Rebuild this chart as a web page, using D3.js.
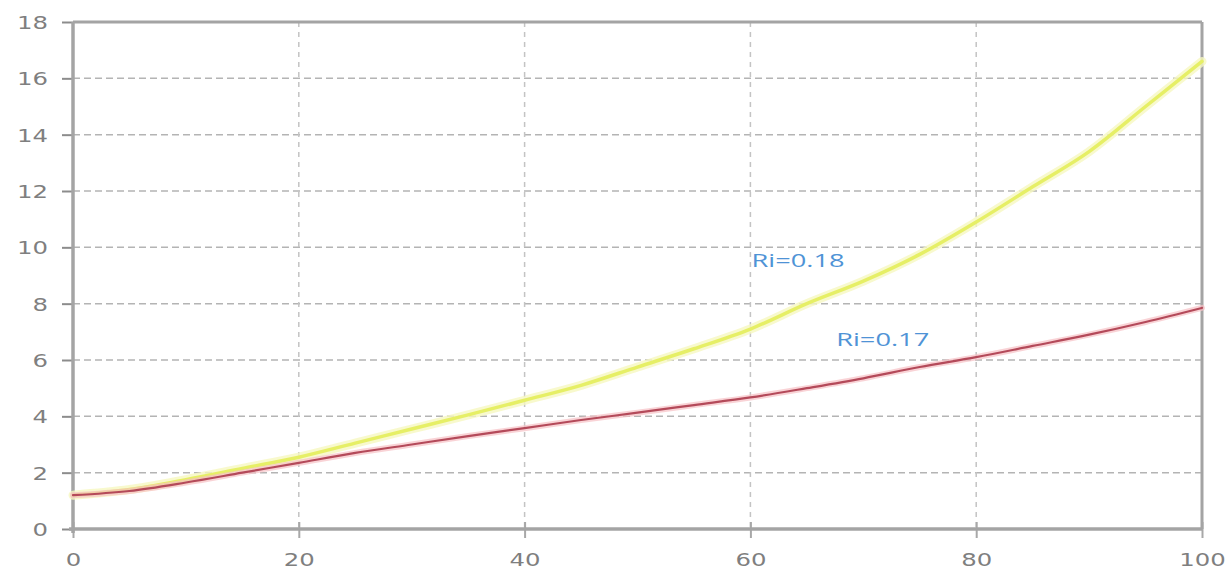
<!DOCTYPE html>
<html>
<head>
<meta charset="utf-8">
<script src="https://cdn.jsdelivr.net/npm/d3@7"></script>
<style>
  html, body { margin: 0; padding: 0; background: #fff; }
  svg { display: block; }
</style>
</head>
<body>
<svg id="chart" width="1232" height="572"></svg>
<script>
// ---- data ----
const xValues = [0, 5, 10, 15, 20, 25, 30, 35, 40, 45, 50, 55, 60, 65, 70, 75, 80, 85, 90, 95, 100];
const seriesRi018 = [1.2, 1.4, 1.75, 2.15, 2.55, 3.05, 3.55, 4.05, 4.57, 5.1, 5.75, 6.4, 7.1, 8.0, 8.8, 9.75, 10.9, 12.15, 13.4, 15.0, 16.6];
const seriesRi017 = [1.2, 1.35, 1.65, 2.0, 2.35, 2.7, 3.0, 3.3, 3.58, 3.87, 4.13, 4.4, 4.67, 5.0, 5.35, 5.75, 6.1, 6.5, 6.9, 7.35, 7.85];
const xTicks = [0, 20, 40, 60, 80, 100];
const yTicks = [0, 2, 4, 6, 8, 10, 12, 14, 16, 18];
const seriesLabels = ["Ri=0.18", "Ri=0.17"];
const labelAnchors = [[60.1, 9.3], [67.6, 6.5]]; // data-space anchor of label text

(function () {
// ---- layout ----
const svg = d3.select("#chart");
const pLeft = 73, pRight = 1202, pTop = 22, pBottom = 529;
const x = d3.scaleLinear().domain([0, 100]).range([pLeft, pRight]);
const y = d3.scaleLinear().domain([0, 18]).range([pBottom, pTop]);

// gridlines
const grid = svg.append("g");
grid.selectAll("line.h").data(yTicks.filter(d => d > 0 && d < 18)).join("line")
  .attr("x1", pLeft).attr("x2", pRight)
  .attr("y1", d => y(d)).attr("y2", d => y(d))
  .attr("stroke", "#b4b4b4").attr("stroke-width", 1.5)
  .attr("stroke-dasharray", "7,4");
grid.selectAll("line.v").data(xTicks.filter(d => d > 0 && d < 100)).join("line")
  .attr("x1", d => x(d)).attr("x2", d => x(d))
  .attr("y1", pTop).attr("y2", pBottom)
  .attr("stroke", "#c4c4c4").attr("stroke-width", 1.5)
  .attr("stroke-dasharray", "5,5");

// y axis
const yAxis = d3.axisLeft(y).tickValues(yTicks).tickSize(11).tickPadding(14).tickFormat(d3.format("d"));
const gy = svg.append("g").attr("transform", `translate(${pLeft},0)`).call(yAxis);
gy.select(".domain").remove();
gy.selectAll(".tick line").attr("stroke", "#8c8c8c").attr("stroke-width", 2);
gy.selectAll(".tick text")
  .attr("fill", "#7f7f7f").attr("font-family", "DejaVu Sans").attr("font-size", 18)
  .attr("dy", "0.36em")
  .attr("textLength", d => String(d).length * 15.5)
  .attr("lengthAdjust", "spacingAndGlyphs");

// x axis
const xAxis = d3.axisBottom(x).tickValues(xTicks).tickSize(0).tickPadding(0).tickFormat(d3.format("d"));
const gx = svg.append("g").attr("transform", `translate(0,${pBottom})`).call(xAxis);
gx.select(".domain").remove();
gx.selectAll(".tick line").remove();
gx.selectAll(".tick").append("line")
  .attr("y1", -7).attr("y2", 9).attr("stroke", "#a8a8a8").attr("stroke-width", 2);
gx.selectAll(".tick text")
  .attr("fill", "#7f7f7f").attr("font-family", "DejaVu Sans").attr("font-size", 17)
  .attr("y", 37).attr("dy", 0)
  .attr("textLength", d => String(d).length * 15.5)
  .attr("lengthAdjust", "spacingAndGlyphs");

// frame
const frame = svg.append("g").attr("fill", "none").attr("stroke", "#a4a4a4");
frame.append("line").attr("x1", pLeft).attr("x2", pRight).attr("y1", pTop).attr("y2", pTop).attr("stroke-width", 3);
frame.append("line").attr("x1", pRight).attr("x2", pRight).attr("y1", pTop).attr("y2", pBottom).attr("stroke-width", 3);
frame.append("line").attr("x1", pLeft).attr("x2", pLeft).attr("y1", pTop).attr("y2", pBottom + 4).attr("stroke-width", 3.5);
frame.append("line").attr("x1", pLeft - 4).attr("x2", pRight).attr("y1", pBottom).attr("y2", pBottom).attr("stroke-width", 3.5);

// lines
const line = d3.line().x((d, i) => x(xValues[i])).y(d => y(d)).curve(d3.curveMonotoneX);
const lines = svg.append("g").attr("fill", "none").attr("stroke-linecap", "round");
lines.append("path").datum(seriesRi018).attr("d", line)
  .attr("stroke", "#f6f8c0").attr("stroke-width", 9).attr("opacity", 0.8);
lines.append("path").datum(seriesRi018).attr("d", line)
  .attr("stroke", "#e6ef66").attr("stroke-width", 3.5);
lines.append("path").datum(seriesRi017).attr("d", line)
  .attr("stroke", "#f6c0c4").attr("stroke-width", 6).attr("opacity", 0.7);
lines.append("path").datum(seriesRi017).attr("d", line)
  .attr("stroke", "#b44a5a").attr("stroke-width", 2.2);

// labels
svg.append("g").selectAll("text").data(seriesLabels).join("text")
  .attr("x", (d, i) => x(labelAnchors[i][0]))
  .attr("y", (d, i) => y(labelAnchors[i][1]))
  .attr("fill", "#4f93d6").attr("font-family", "Open Sans").attr("font-size", 18)
  .attr("textLength", 93).attr("lengthAdjust", "spacingAndGlyphs")
  .text(d => d);
})();
</script>
</body>
</html>
